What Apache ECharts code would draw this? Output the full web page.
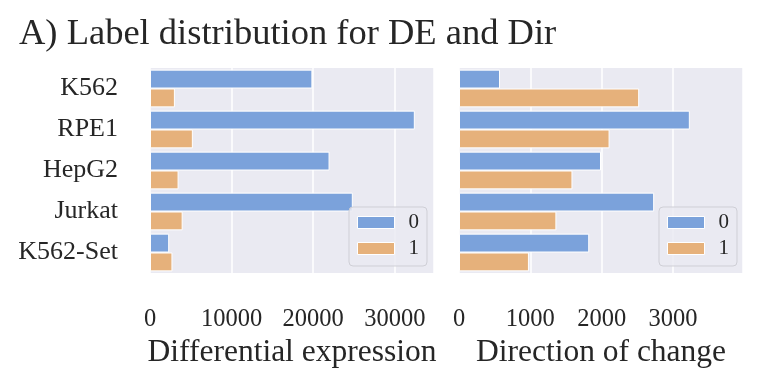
<!DOCTYPE html>
<html>
<head>
<meta charset="utf-8">
<script src="https://cdn.jsdelivr.net/npm/echarts@6/dist/echarts.min.js"></script>
<style>
  html, body { margin: 0; padding: 0; background: #fff; }
  #chart { width: 761px; height: 381px; }
</style>
</head>
<body>
<div id="chart"></div>
<script>
// categories (top to bottom)
var cellLines = ['K562', 'RPE1', 'HepG2', 'Jurkat', 'K562-Set'];
var hueNames = ['0', '1'];

// Differential expression counts per label
var deLabel0 = [19900, 32450, 22000, 24850, 2350];
var deLabel1 = [3050, 5250, 3500, 4000, 2750];

// Direction of change counts per label
var dirLabel0 = [575, 3235, 1990, 2735, 1825];
var dirLabel1 = [2525, 2110, 1590, 1365, 980];

var deMax = 34800, deStep = 10000;
var dirMax = 3980, dirStep = 1000;

var FONT = 'Liberation Serif, Times New Roman, serif';
var TEXT = '#262626';
var BLUE = '#7ba2db';
var ORANGE = '#e6b17b';

var myChart = echarts.init(document.getElementById('chart'));

function xAxisFor(idx, max, step, name) {
    return {
        type: 'value',
        gridIndex: idx,
        min: 0,
        max: max,
        interval: step,
        name: name,
        nameLocation: 'middle',
        nameGap: 59,
        nameTextStyle: { fontFamily: FONT, fontSize: 31.5, color: TEXT },
        axisLine: { show: false },
        axisTick: { show: false },
        axisLabel: {
            fontFamily: FONT, fontSize: 24.5, color: TEXT, margin: 34,
            showMaxLabel: false,
            formatter: function (v) { return String(v); }
        },
        splitLine: { show: true, lineStyle: { color: '#ffffff', width: 1.5 } }
    };
}

function yAxisFor(idx, showLabels) {
    return {
        type: 'category',
        gridIndex: idx,
        data: cellLines,
        inverse: true,
        axisLine: { show: false },
        axisTick: { show: false },
        splitLine: { show: false },
        axisLabel: {
            show: showLabels,
            fontFamily: FONT, fontSize: 26, color: TEXT, margin: 32
        }
    };
}

function barSeries(name, idx, data, color) {
    return {
        name: name,
        type: 'bar',
        xAxisIndex: idx,
        yAxisIndex: idx,
        data: data,
        barGap: '0%',
        barCategoryGap: '8%',
        itemStyle: { color: color, borderColor: '#ffffff', borderWidth: 1 }
    };
}

function legendAt(left) {
    return {
        data: hueNames,
        orient: 'vertical',
        left: left,
        top: 207,
        icon: 'rect',
        itemWidth: 37,
        itemHeight: 12,
        itemGap: 5,
        itemStyle: { borderColor: '#ffffff', borderWidth: 1 },
        padding: [5, 8, 7, 8],
        backgroundColor: 'rgba(234,234,242,0.85)',
        borderColor: '#cfcfd6',
        borderWidth: 1,
        borderRadius: 4,
        textStyle: { fontFamily: FONT, fontSize: 21, color: TEXT, padding: [0, 0, 0, 9] },
        selectedMode: false
    };
}

var option = {
    animation: false,
    title: {
        text: 'A) Label distribution for DE and Dir',
        left: 14,
        top: 11,
        textStyle: { fontFamily: FONT, fontSize: 36.5, fontWeight: 'normal', color: TEXT }
    },
    legend: [legendAt(349), legendAt(659)],
    grid: [
        { left: 150, top: 68, width: 284, height: 205, show: true, backgroundColor: '#eaeaf2', borderWidth: 0 },
        { left: 459, top: 68, width: 284, height: 205, show: true, backgroundColor: '#eaeaf2', borderWidth: 0 }
    ],
    xAxis: [
        xAxisFor(0, deMax, deStep, 'Differential expression'),
        xAxisFor(1, dirMax, dirStep, 'Direction of change')
    ],
    yAxis: [yAxisFor(0, true), yAxisFor(1, false)],
    series: [
        barSeries(hueNames[0], 0, deLabel0, BLUE),
        barSeries(hueNames[1], 0, deLabel1, ORANGE),
        barSeries(hueNames[0], 1, dirLabel0, BLUE),
        barSeries(hueNames[1], 1, dirLabel1, ORANGE)
    ]
};

myChart.setOption(option);
</script>
</body>
</html>
